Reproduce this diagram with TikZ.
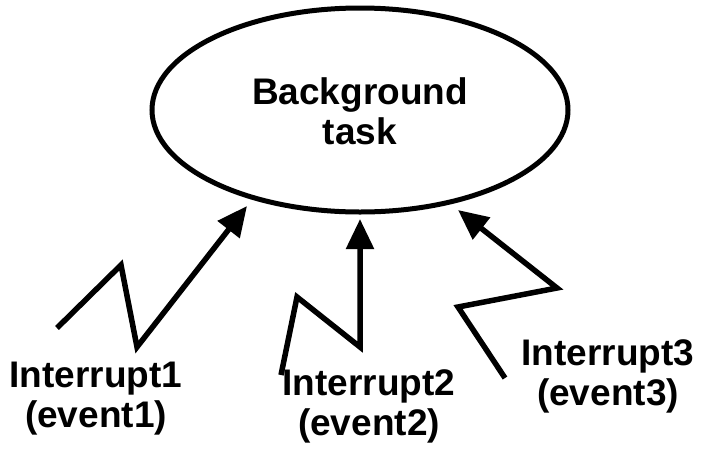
\documentclass[tikz,border=0pt]{standalone}
\usepackage{fontspec}
\setmainfont{Liberation Sans}
\usetikzlibrary{arrows.meta,shapes.geometric}
\begin{document}
\begin{tikzpicture}[x=1pt,y=-1pt,
  lbl/.style={font=\fontsize{37}{40}\selectfont\bfseries,align=center,inner sep=0pt},
  zz/.style={line width=5.5pt,line join=miter,-{Triangle[length=30pt,width=27pt]}},
  bubble/.style={ellipse,draw,line width=5pt,minimum width=416pt,minimum height=204pt}]
\useasboundingbox (0,0) rectangle (701,456);
\node[bubble] (bg) at (360,110) {};
\node[lbl] (bgt) at (360,111) {Background\\task};
\coordinate (s1) at (57,328); \coordinate (p1) at (121,265); \coordinate (v1) at (137,347); \coordinate (t1) at (247,206);
\coordinate (s2) at (281,375); \coordinate (p2) at (297,297); \coordinate (v2) at (360,347); \coordinate (t2) at (360,219);
\coordinate (s3) at (505,378); \coordinate (p3) at (458,307); \coordinate (v3) at (557,288); \coordinate (t3) at (458,210);
\draw[zz] (s1) -- (p1) -- (v1) -- (t1);
\draw[zz] (s2) -- (p2) -- (v2) -- (t2);
\draw[zz] (s3) -- (p3) -- (v3) -- (t3);
\node[lbl] (i1) at (96,399) {Interrupt1\\(event1)};
\node[lbl] (i2) at (369,406) {Interrupt2\\(event2)};
\node[lbl] (i3) at (608,376) {Interrupt3\\(event3)};
\end{tikzpicture}
\end{document}
